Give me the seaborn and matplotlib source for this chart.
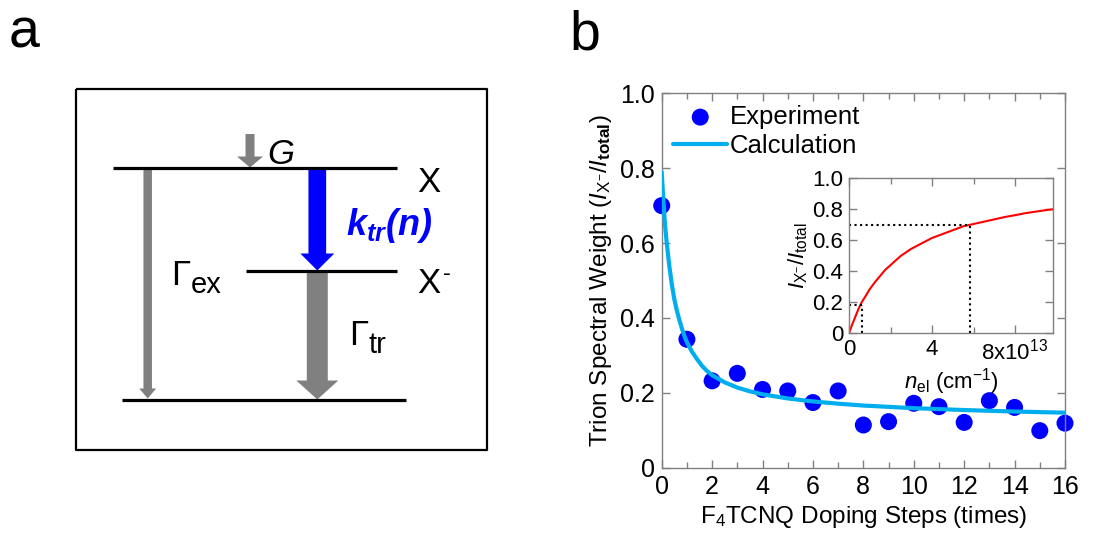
import matplotlib
matplotlib.use("Agg")
import matplotlib.pyplot as plt
import seaborn as sns

# ---------------- data ----------------
exp_steps = [0, 1, 2, 3, 4, 5, 6, 7, 8, 9, 10, 11, 12, 13, 14, 15, 16]
exp_weight = [0.70, 0.343, 0.232, 0.252, 0.209, 0.205, 0.174, 0.205, 0.114,
              0.123, 0.172, 0.163, 0.121, 0.179, 0.161, 0.099, 0.119]

calc_steps = [0.0, 0.06, 0.13, 0.2, 0.3, 0.4, 0.5, 0.6, 0.7, 0.8, 0.9, 1.0, 1.2,
              1.4, 1.6, 1.8, 2.0, 2.5, 3.0, 3.5, 4.0, 5.0, 6.0, 7.0, 8.0, 10.0,
              12.0, 14.0, 16.0]
calc_weight = [0.79, 0.72, 0.65, 0.60, 0.54, 0.49, 0.45, 0.42, 0.395, 0.372,
               0.352, 0.335, 0.31, 0.29, 0.272, 0.258, 0.247, 0.228, 0.214,
               0.204, 0.196, 0.185, 0.177, 0.171, 0.166, 0.159, 0.154, 0.150,
               0.147]

inset_n = [0, 0.15, 0.3, 0.45, 0.61, 0.8, 1.0, 1.25, 1.5, 1.75, 2.0, 2.5, 3.0,
           3.5, 4.0, 4.5, 5.0, 5.5, 5.83, 6.5, 7.0, 7.5, 8.0, 8.5, 9.0, 9.5, 9.83]
inset_ratio = [0, 0.055, 0.105, 0.155, 0.20, 0.24, 0.285, 0.33, 0.37, 0.41,
               0.44, 0.50, 0.545, 0.58, 0.615, 0.64, 0.665, 0.69, 0.70, 0.72,
               0.735, 0.75, 0.762, 0.775, 0.785, 0.795, 0.80]
inset_guide_n = [0.61, 5.83]
inset_guide_ratio = [0.18, 0.70]

main_xticks = [0, 2, 4, 6, 8, 10, 12, 14, 16]
main_yticks = [0, 0.2, 0.4, 0.6, 0.8, 1.0]
main_yticklabels = ["0", "0.2", "0.4", "0.6", "0.8", "1.0"]
inset_xticks = [0, 4, 8]
inset_xticklabels = ["0", "4", "8x10$^{13}$"]
inset_yticks = [0, 0.2, 0.4, 0.6, 0.8, 1.0]
inset_yticklabels = ["0", "0.2", "0.4", "0.6", "0.8", "1.0"]

# ---------------- style ----------------
sns.set_style("ticks")
plt.rcParams['font.family'] = ['Liberation Sans', 'DejaVu Sans']
plt.rcParams['text.color'] = 'black'
plt.rcParams['axes.labelcolor'] = 'black'
plt.rcParams['xtick.labelcolor'] = 'black'
plt.rcParams['ytick.labelcolor'] = 'black'
plt.rcParams['mathtext.fontset'] = 'custom'
plt.rcParams['mathtext.rm'] = 'Liberation Sans'
plt.rcParams['mathtext.it'] = 'Liberation Sans:italic'
plt.rcParams['mathtext.bf'] = 'Liberation Sans:bold'
plt.rcParams['mathtext.bfit'] = 'Liberation Sans:italic:bold'
plt.rcParams['mathtext.sf'] = 'Liberation Sans'

W, H = 1101, 542
fig = plt.figure(figsize=(W / 100, H / 100), dpi=100)

# ---------------- panel a: schematic ----------------
ax0 = fig.add_axes([0, 0, 1, 1], zorder=-1)
ax0.set_xlim(0, W)
ax0.set_ylim(H, 0)
ax0.axis("off")

gray = "#808080"
blue = "#0000FF"

ax0.plot([76.3, 486.7, 486.7, 76.3, 76.3], [89.3, 89.3, 450, 450, 89.3],
         color="black", lw=1.6, solid_capstyle="butt")
ax0.plot([112.7, 397.3], [168.3, 168.3], color="black", lw=2.3, solid_capstyle="butt")
ax0.plot([246, 397.3], [271, 271], color="black", lw=2.3, solid_capstyle="butt")
ax0.plot([121.7, 406.3], [399.7, 399.7], color="black", lw=2.3, solid_capstyle="butt")

ax0.arrow(147.7, 169.5, 0, 229, width=8.5, head_width=17, head_length=10,
          length_includes_head=True, color=gray, lw=0)
ax0.arrow(250, 134, 0, 33.5, width=9, head_width=26, head_length=11,
          length_includes_head=True, color=gray, lw=0)
ax0.arrow(317.3, 169.5, 0, 101, width=17.7, head_width=34, head_length=17,
          length_includes_head=True, color=blue, lw=0)
ax0.arrow(317.3, 272.5, 0, 127, width=21, head_width=42, head_length=19,
          length_includes_head=True, color=gray, lw=0)

ax0.text(267, 164, "G", fontsize=25, style="italic", ha="left", va="baseline")
ax0.text(417, 191.7, "X", fontsize=25, ha="left", va="baseline")
ax0.text(417, 293.3, "X", fontsize=25, ha="left", va="baseline")
ax0.text(443, 280, "-", fontsize=17, ha="left", va="baseline")
ax0.text(346, 235, r"$\mathbfit{k}_{\mathbfit{tr}}\mathbfit{(n)}$", fontsize=26,
         color=blue, ha="left", va="baseline")
ax0.text(171, 285, "Γ", fontsize=25, ha="left", va="baseline")
ax0.text(191, 293.3, "ex", fontsize=21, ha="left", va="baseline")
ax0.text(349.5, 345, "Γ", fontsize=25, ha="left", va="baseline")
ax0.text(368.5, 353.3, "tr", fontsize=21, ha="left", va="baseline")

fig.text(9 / W, 1 - 47 / H, "a", fontsize=40, ha="left", va="baseline")
fig.text(569 / W, 1 - 49 / H, "b", fontsize=40, ha="left", va="baseline")

# ---------------- panel b: main plot ----------------
ax = fig.add_axes([661.7 / W, (H - 467.7) / H, (1065 - 661.7) / W, 374.4 / H])
sns.scatterplot(x=exp_steps, y=exp_weight, ax=ax, s=150, color=blue,
                edgecolor="none", label="Experiment", zorder=2, clip_on=False)
sns.lineplot(x=calc_steps, y=calc_weight, ax=ax, color="#00AEEF", lw=3,
             label="Calculation", sort=False, estimator=None, zorder=3)
ax.set_xlim(0, 16)
ax.set_ylim(0, 1.0)
ax.set_xticks(main_xticks)
ax.set_xticks(range(0, 17), minor=True)
ax.set_yticks(main_yticks)
ax.set_yticklabels(main_yticklabels)
spine_c = "#808080"
for s in ax.spines.values():
    s.set_color(spine_c)
    s.set_linewidth(1.0)
ax.tick_params(which="both", direction="in", top=True, right=True, color=spine_c,
               labelcolor="black", width=1.0, labelsize=18, pad=5)
ax.tick_params(which="major", length=6)
ax.tick_params(which="minor", length=4)
ax.set_xlabel(r"F$_4$TCNQ Doping Steps (times)", fontsize=17.5, labelpad=4)
ax.set_ylabel(r"Trion Spectral Weight ($\mathit{I}_{\mathrm{X}^{-}}/\mathit{I}_{\mathbf{total}}$)",
              fontsize=17.5, labelpad=4)
leg = ax.legend(loc="upper left", frameon=False, fontsize=18.5, handlelength=2.1,
                handletextpad=0.1, labelspacing=0.2, borderaxespad=0.15,
                borderpad=0.3, markerscale=1.0)

# ---------------- inset ----------------
axi = fig.add_axes([849 / W, (H - 333.3) / H, (1053 - 849) / W, 155 / H])
sns.lineplot(x=inset_n, y=inset_ratio, ax=axi, color="#FF0000", lw=1.5,
             sort=False, estimator=None)
for gx, gy in zip(inset_guide_n, inset_guide_ratio):
    axi.plot([0, gx], [gy, gy], color="black", ls=":", lw=1.5)
    axi.plot([gx, gx], [0, gy], color="black", ls=":", lw=1.5)
axi.set_xlim(0, 9.83)
axi.set_ylim(0, 1.0)
axi.set_xticks(inset_xticks)
axi.set_xticklabels(inset_xticklabels)
axi.set_xticks([2, 6], minor=True)
axi.set_yticks(inset_yticks)
axi.set_yticklabels(inset_yticklabels)
for s in axi.spines.values():
    s.set_color(spine_c)
    s.set_linewidth(1.0)
axi.tick_params(which="both", direction="in", top=True, right=True, color=spine_c,
                labelcolor="black", width=1.0, labelsize=16, pad=4)
axi.tick_params(which="major", length=6)
axi.tick_params(which="minor", length=4)
axi.set_xlabel(r"$\mathit{n}_{\mathrm{el}}$ (cm$^{-1}$)", fontsize=16, labelpad=1)
axi.set_ylabel(r"$\mathit{I}_{\mathrm{X}^{-}}/\mathit{I}_{\mathrm{total}}$",
               fontsize=16, labelpad=2)

fig.savefig("out.png", dpi=100)
